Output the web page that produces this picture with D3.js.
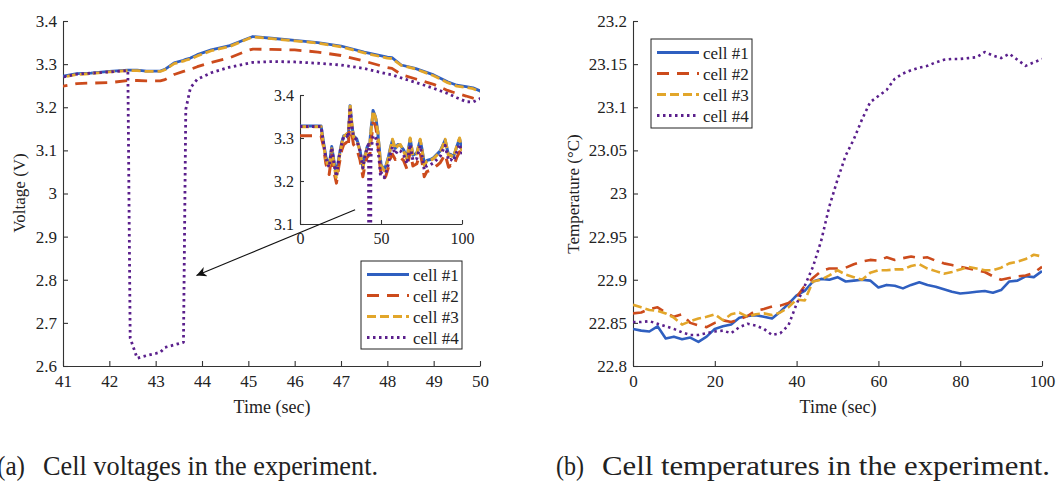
<!DOCTYPE html>
<html>
<head>
<meta charset="utf-8">
<script src="https://cdn.jsdelivr.net/npm/d3@7"></script>
<style>
  body { margin: 0; background: #fff; }
  svg { display: block; }
</style>
</head>
<body>
<svg id="fig" width="1057" height="481"></svg>
<script>
// ---------- data ----------
const cellNames = ["cell #1", "cell #2", "cell #3", "cell #4"];

// Voltage record (s): coarse outside the event window, fine inside 41-50 s
const timeV = [
  0, 13, 14.5, 16, 18, 19.6, 21, 22.5, 24, 25.8, 27, 28.9, 29.8, 30.9, 32, 33, 35, 37, 38.8, 40,
  41, 41.3, 41.6, 42, 42.4, 42.45, 42.6, 42.8, 43.0, 43.1, 43.2, 43.4, 43.6, 43.65, 43.75, 43.9, 44.2, 44.6,
  45, 45.1, 45.5, 46, 46.5, 47, 47.5, 48, 48.1, 48.3, 48.6, 49, 49.3, 49.5, 49.7, 49.85, 50,
  51, 52, 53, 54.6, 56, 57.1, 58.8, 60.5, 61.9, 63.9, 66, 68, 69.7, 72.1, 74.2, 75.5, 76.7, 78.3,
  80.5, 82.4, 84.5, 86.6, 88, 89.6, 91.7, 93, 94.8, 96.8, 98.5, 100
];
const voltCell1 = [
  3.328, 3.328, 3.290, 3.255, 3.235, 3.280, 3.245, 3.215, 3.255, 3.290, 3.305, 3.308, 3.300, 3.375, 3.330, 3.305, 3.298, 3.272, 3.232, 3.258,
  3.272, 3.278, 3.279, 3.283, 3.286, 3.286, 3.286, 3.284, 3.284, 3.284, 3.288, 3.303, 3.309, 3.311, 3.314, 3.322, 3.333, 3.343,
  3.360, 3.364, 3.360, 3.355, 3.350, 3.342, 3.328, 3.316, 3.315, 3.298, 3.290, 3.275, 3.259, 3.251, 3.248, 3.245, 3.238,
  3.232, 3.226, 3.235, 3.256, 3.280, 3.295, 3.276, 3.285, 3.283, 3.273, 3.254, 3.298, 3.260, 3.265, 3.295, 3.270, 3.240, 3.248,
  3.250, 3.254, 3.262, 3.270, 3.282, 3.295, 3.260, 3.262, 3.257, 3.280, 3.298, 3.273
];
const voltCell2 = [
  3.305, 3.305, 3.280, 3.240, 3.215, 3.260, 3.220, 3.195, 3.235, 3.272, 3.285, 3.290, 3.280, 3.345, 3.310, 3.285, 3.275, 3.250, 3.210, 3.235,
  3.249, 3.255, 3.256, 3.257, 3.262, 3.262, 3.262, 3.261, 3.261, 3.261, 3.264, 3.276, 3.283, 3.285, 3.288, 3.294, 3.304, 3.315,
  3.332, 3.335, 3.334, 3.333, 3.328, 3.320, 3.307, 3.292, 3.290, 3.276, 3.266, 3.253, 3.239, 3.232, 3.226, 3.221, 3.217,
  3.208, 3.205, 3.212, 3.232, 3.255, 3.262, 3.250, 3.258, 3.255, 3.248, 3.228, 3.268, 3.235, 3.240, 3.265, 3.240, 3.210, 3.222,
  3.225, 3.230, 3.236, 3.243, 3.252, 3.262, 3.232, 3.236, 3.233, 3.255, 3.268, 3.250
];
const voltCell3 = [
  3.326, 3.326, 3.285, 3.250, 3.230, 3.275, 3.238, 3.205, 3.250, 3.288, 3.303, 3.310, 3.305, 3.378, 3.335, 3.303, 3.295, 3.270, 3.228, 3.255,
  3.270, 3.276, 3.278, 3.282, 3.285, 3.285, 3.285, 3.283, 3.283, 3.283, 3.287, 3.301, 3.307, 3.309, 3.312, 3.319, 3.331, 3.341,
  3.359, 3.363, 3.359, 3.354, 3.349, 3.340, 3.326, 3.314, 3.313, 3.297, 3.289, 3.273, 3.257, 3.249, 3.246, 3.243, 3.236,
  3.230, 3.224, 3.233, 3.253, 3.278, 3.297, 3.274, 3.283, 3.285, 3.270, 3.250, 3.300, 3.258, 3.263, 3.297, 3.268, 3.236, 3.246,
  3.248, 3.252, 3.260, 3.268, 3.280, 3.297, 3.258, 3.260, 3.255, 3.282, 3.300, 3.270
];
const voltCell4 = [
  3.327, 3.327, 3.288, 3.252, 3.232, 3.278, 3.240, 3.210, 3.252, 3.288, 3.303, 3.306, 3.300, 3.372, 3.328, 3.303, 3.296, 3.270, 3.230, 3.256,
  3.270, 3.277, 3.279, 3.282, 3.285, 2.665, 2.618, 2.624, 2.629, 2.632, 2.643, 2.649, 2.655, 3.195, 3.245, 3.265, 3.280, 3.293,
  3.302, 3.304, 3.306, 3.305, 3.302, 3.298, 3.290, 3.277, 3.275, 3.268, 3.258, 3.244, 3.232, 3.222, 3.213, 3.212, 3.220,
  3.215, 3.208, 3.218, 3.240, 3.265, 3.280, 3.262, 3.272, 3.270, 3.262, 3.240, 3.285, 3.248, 3.252, 3.282, 3.256, 3.226, 3.236,
  3.238, 3.242, 3.250, 3.258, 3.270, 3.283, 3.248, 3.250, 3.246, 3.268, 3.286, 3.262
];

// Temperature record (s, °C)
const timeT = [
  0, 2, 4, 6, 8, 10, 12, 14, 16, 18, 20, 22, 24, 26, 28, 30, 32, 34, 36, 38, 40, 42, 44, 46, 48, 50,
  52, 54, 56, 58, 60, 62, 64, 66, 68, 70, 72, 74, 76, 78, 80, 82, 84, 86, 88, 90, 92, 94, 96, 98, 100
];
const tempCell1 = [
  22.843, 22.841, 22.840, 22.846, 22.832, 22.834, 22.831, 22.833, 22.828, 22.834, 22.843, 22.846, 22.848,
  22.856, 22.858, 22.859, 22.857, 22.855, 22.863, 22.872, 22.882, 22.887, 22.898, 22.901, 22.900, 22.903,
  22.898, 22.899, 22.900, 22.899, 22.891, 22.894, 22.893, 22.890, 22.894, 22.897, 22.894, 22.892, 22.889,
  22.886, 22.884, 22.885, 22.886, 22.887, 22.885, 22.888, 22.898, 22.899, 22.904, 22.903, 22.910
];
const tempCell2 = [
  22.861, 22.862, 22.866, 22.868, 22.862, 22.857, 22.860, 22.850, 22.847, 22.845, 22.850, 22.853, 22.851,
  22.854, 22.858, 22.864, 22.866, 22.869, 22.870, 22.873, 22.880, 22.893, 22.902, 22.910, 22.913, 22.913,
  22.914, 22.918, 22.921, 22.923, 22.922, 22.926, 22.923, 22.925, 22.927, 22.925, 22.926, 22.922, 22.919,
  22.917, 22.915, 22.913, 22.911, 22.909, 22.904, 22.900, 22.902, 22.904, 22.905, 22.908, 22.915
];
const tempCell3 = [
  22.871, 22.868, 22.865, 22.864, 22.861, 22.856, 22.848, 22.852, 22.855, 22.857, 22.860, 22.853, 22.860,
  22.862, 22.857, 22.860, 22.861, 22.859, 22.862, 22.868, 22.877, 22.876, 22.898, 22.900, 22.905, 22.911,
  22.906, 22.903, 22.900, 22.908, 22.911, 22.911, 22.912, 22.912, 22.916, 22.918, 22.913, 22.910, 22.907,
  22.909, 22.912, 22.915, 22.913, 22.911, 22.911, 22.914, 22.919, 22.921, 22.924, 22.929, 22.927
];
const tempCell4 = [
  22.851, 22.851, 22.852, 22.849, 22.846, 22.843, 22.839, 22.836, 22.836, 22.838, 22.840, 22.841, 22.838,
  22.845, 22.849, 22.847, 22.843, 22.836, 22.838, 22.847, 22.872, 22.893, 22.915, 22.945, 22.985, 23.016,
  23.044, 23.063, 23.086, 23.106, 23.113, 23.120, 23.133, 23.139, 23.143, 23.146, 23.148, 23.152, 23.155,
  23.156, 23.156, 23.157, 23.158, 23.164, 23.160, 23.157, 23.162, 23.155, 23.148, 23.152, 23.156
];

// Tick values
const voltTicks = [2.6, 2.7, 2.8, 2.9, 3, 3.1, 3.2, 3.3, 3.4];
const voltTimeTicks = [41, 42, 43, 44, 45, 46, 47, 48, 49, 50];
const insetVoltTicks = [3.1, 3.2, 3.3, 3.4];
const insetTimeTicks = [0, 50, 100];
const tempTicks = [22.8, 22.85, 22.9, 22.95, 23, 23.05, 23.1, 23.15, 23.2];
const tempTimeTicks = [0, 20, 40, 60, 80, 100];

// Line styles per cell
const cellColors = ["#2f5fc0", "#cc4b1c", "#e2a62a", "#5a1f8c"];
const cellDash = [null, "12,8", "9,4", "2.5,3.5"];

// ---------- font: first installed Times-like face ----------
function pickFont(cands) {
  const ctx = document.createElement("canvas").getContext("2d");
  const sample = "Cell voltages 0123456789 (sec) Wmil";
  const widthWith = f => { ctx.font = "40px " + f; return ctx.measureText(sample).width; };
  const mono = widthWith("monospace"), sans = widthWith("sans-serif");
  for (const c of cands) {
    const wm = widthWith(`"${c}", monospace`), ws = widthWith(`"${c}", sans-serif`);
    if (wm !== mono && ws !== sans) return `"${c}"`;
  }
  return "serif";
}
const SERIF = pickFont(["Liberation Serif", "Tinos", "Times New Roman", "Times", "Nimbus Roman",
  "Nimbus Roman No9 L", "DejaVu Serif", "Noto Serif", "FreeSerif", "Linux Libertine O", "Georgia"]) + ", serif";

// ---------- drawing ----------
const svg = d3.select("#fig").attr("font-family", SERIF).style("font-family", SERIF);
const defs = svg.append("defs");
const fmt = d3.format("~g");
const ink = "#222";

function zip(t, v) { return t.map((d, i) => [d, v[i]]); }

function addClip(id, x, y) {
  defs.append("clipPath").attr("id", id).append("rect")
    .attr("x", x.range()[0]).attr("y", y.range()[1])
    .attr("width", x.range()[1] - x.range()[0])
    .attr("height", y.range()[0] - y.range()[1]);
}

function label(x, y, size, txt, anchor, rotate) {
  const t = svg.append("text")
    .attr("text-anchor", anchor || "start")
    .style("font-family", SERIF).style("font-size", size + "px").attr("fill", ink)
    .text(txt);
  if (rotate) t.attr("transform", `translate(${x},${y}) rotate(${rotate})`);
  else t.attr("x", x).attr("y", y);
  return t;
}

function drawAxes(x, y, xt, yt, opt) {
  const gx = svg.append("g").attr("transform", `translate(0,${y.range()[0]})`)
    .call(d3.axisBottom(x).tickValues(xt).tickFormat(fmt)
      .tickSizeInner(-opt.tick).tickSizeOuter(0).tickPadding(opt.xpad));
  const gy = svg.append("g").attr("transform", `translate(${x.range()[0]},0)`)
    .call(d3.axisLeft(y).tickValues(yt).tickFormat(fmt)
      .tickSizeInner(-opt.tick).tickSizeOuter(0).tickPadding(opt.ypad));
  [gx, gy].forEach(g => {
    g.attr("font-family", SERIF).attr("font-size", opt.font);
    g.selectAll("path.domain").attr("stroke", "#333").attr("stroke-width", 1.1);
    g.selectAll(".tick line").attr("stroke", "#333").attr("stroke-width", 1.1);
    g.selectAll(".tick text").attr("fill", ink)
      .style("font-family", SERIF).style("font-size", opt.font + "px");
  });
}

function drawSeries(x, y, clipId, t, series, width) {
  const line = d3.line().x(d => x(d[0])).y(d => y(d[1]));
  const g = svg.append("g").attr("clip-path", `url(#${clipId})`);
  series.forEach((v, i) => {
    g.append("path").datum(zip(t, v))
      .attr("d", line).attr("fill", "none")
      .attr("stroke", cellColors[i]).attr("stroke-width", width)
      .attr("stroke-dasharray", cellDash[i])
      .attr("stroke-linejoin", "round");
  });
}

function drawLegend(x0, y0, w, h, rowY) {
  const g = svg.append("g");
  g.append("rect").attr("x", x0).attr("y", y0).attr("width", w).attr("height", h)
    .attr("fill", "#fff").attr("stroke", ink).attr("stroke-width", 1);
  cellNames.forEach((n, i) => {
    const yy = y0 + rowY[i];
    g.append("line").attr("x1", x0 + 6).attr("x2", x0 + 48).attr("y1", yy).attr("y2", yy)
      .attr("stroke", cellColors[i]).attr("stroke-width", 3)
      .attr("stroke-dasharray", cellDash[i]);
    label(x0 + 52, yy + 6, 17, n);
  });
}

// (a) voltages
const xA = d3.scaleLinear().domain([41, 50]).range([63, 480]);
const yA = d3.scaleLinear().domain([2.6, 3.4]).range([366, 21]);
addClip("clipA", xA, yA);
drawAxes(xA, yA, voltTimeTicks, voltTicks, { tick: 5, xpad: 9, ypad: 6, font: 17 });
drawSeries(xA, yA, "clipA", timeV, [voltCell1, voltCell2, voltCell3, voltCell4], 2.8);

// inset: whole record
const xI = d3.scaleLinear().domain([0, 100]).range([300, 462]);
const yI = d3.scaleLinear().domain([3.1, 3.4]).range([224, 95]);
addClip("clipI", xI, yI);
drawAxes(xI, yI, insetTimeTicks, insetVoltTicks, { tick: 4, xpad: 9, ypad: 6, font: 16 });
drawSeries(xI, yI, "clipI", timeV, [voltCell1, voltCell2, voltCell3, voltCell4], 3);

// arrow from inset to the dip
defs.append("marker").attr("id", "arrowHead").attr("viewBox", "0 0 10 10")
  .attr("refX", 10).attr("refY", 5).attr("markerWidth", 16).attr("markerHeight", 10)
  .attr("markerUnits", "userSpaceOnUse").attr("orient", "auto")
  .append("path").attr("d", "M0,0 L10,5 L0,10 L3,5 Z").attr("fill", "#111");
svg.append("line")
  .attr("x1", xI(34)).attr("y1", yI(3.133))
  .attr("x2", xA(43.88)).attr("y2", yA(2.81))
  .attr("stroke", "#111").attr("stroke-width", 1.1)
  .attr("marker-end", "url(#arrowHead)");

drawLegend(361, 261, 101, 88, [13.5, 34.5, 55.5, 76.5]);
label(272, 413, 18, "Time (sec)", "middle");
label(25, 193, 17, "Voltage (V)", "middle", -90);

// (b) temperatures
const xB = d3.scaleLinear().domain([0, 100]).range([633, 1042]);
const yB = d3.scaleLinear().domain([22.8, 23.2]).range([366, 21]);
addClip("clipB", xB, yB);
drawAxes(xB, yB, tempTimeTicks, tempTicks, { tick: 5, xpad: 9, ypad: 6, font: 17 });
drawSeries(xB, yB, "clipB", timeT, [tempCell1, tempCell2, tempCell3, tempCell4], 2.6);
drawLegend(651, 39, 101, 89, [13.5, 34.5, 55.5, 76.5]);
label(838, 413, 18, "Time (sec)", "middle");
label(579, 194, 17, "Temperature (°C)", "middle", -90);

// captions
function caption(x0, x1, xText, tag, body) {
  label(x0, 475, 28, tag).attr("textLength", 28).attr("lengthAdjust", "spacingAndGlyphs");
  label(xText, 475, 28, body).attr("textLength", x1 - xText).attr("lengthAdjust", "spacingAndGlyphs");
}
caption(-3, 378, 43, "(a)", "Cell voltages in the experiment.");
caption(556, 1050, 602, "(b)", "Cell temperatures in the experiment.");
</script>
</body>
</html>
